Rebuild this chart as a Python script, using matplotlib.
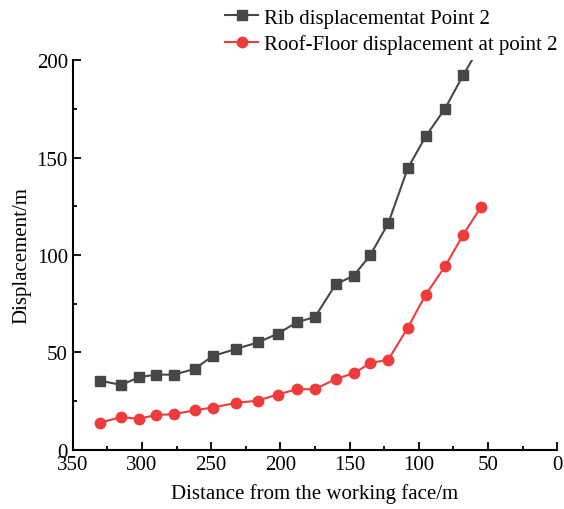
import matplotlib.pyplot as plt
from matplotlib.ticker import MultipleLocator

plt.rcParams['font.family'] = ['Liberation Serif', 'DejaVu Serif']

# distance from face (m) and displacements
dist = [330, 315, 302, 290, 277, 262, 249, 232, 216, 202, 188, 175, 160, 147,
        135, 122, 108, 95, 81, 68, 55]
rib = [35.5, 33.3, 37.3, 38.6, 38.6, 41.5, 48.1, 51.8, 55.2, 59.6, 65.5, 68.2,
       85.0, 89.4, 100.0, 116.4, 144.5, 160.9, 175.2, 192.3, 208.0]
roof = [14.0, 16.8, 15.9, 17.9, 18.3, 20.3, 21.7, 24.1, 25.3, 28.4, 31.1, 31.1,
        36.4, 39.3, 44.5, 46.3, 62.6, 79.7, 94.2, 110.3, 124.8]

fig = plt.figure(figsize=(5.64, 5.10), dpi=100)
ax = fig.add_axes([0.129, 0.116, 0.859, 0.764])

ax.plot(dist, rib, color='#474747', marker='s', markersize=6.5, linewidth=1.5,
        label='Rib displacementat Point 2')
ax.plot(dist, roof, color='#ee3b3b', marker='o', markersize=7.5, linewidth=1.5,
        label='Roof-Floor displacement at point 2')

ax.set_xlim(350, 0)
ax.set_ylim(0, 200)
ax.xaxis.set_major_locator(MultipleLocator(50))
ax.xaxis.set_minor_locator(MultipleLocator(25))
ax.yaxis.set_major_locator(MultipleLocator(50))
ax.yaxis.set_minor_locator(MultipleLocator(25))
ax.tick_params(which='major', direction='in', length=6, width=1.3, labelsize=15)
ax.tick_params(axis='x', which='major', pad=4)
ax.tick_params(which='minor', direction='in', length=3, width=1.3)
ax.spines['top'].set_visible(False)
ax.spines['right'].set_visible(False)
for s in ['left', 'bottom']:
    ax.spines[s].set_linewidth(1.5)

ax.set_xlabel('Distance from the working face/m', fontsize=15, labelpad=6)
ax.set_ylabel('Displacement/m', fontsize=15)

fig.legend(loc='upper left', bbox_to_anchor=(0.399, 0.982), frameon=False,
           fontsize=15, handlelength=1.6, handletextpad=0.25, labelspacing=0.3,
           borderpad=0, borderaxespad=0)

fig.savefig('out.png', dpi=100)
